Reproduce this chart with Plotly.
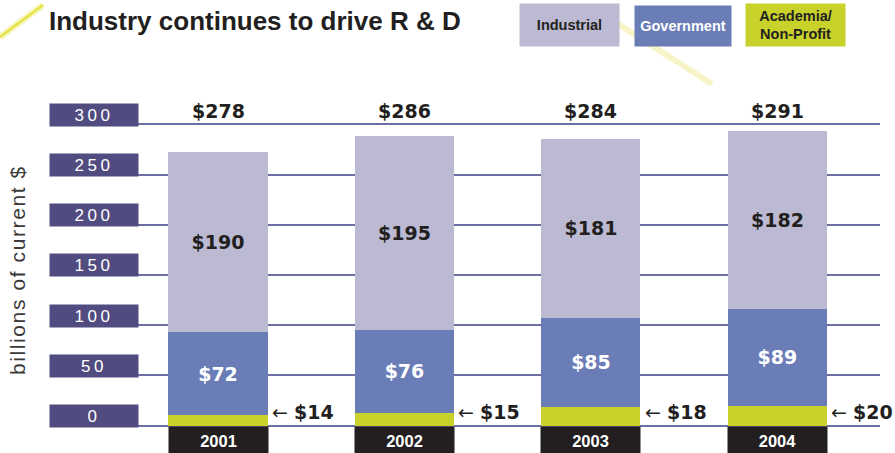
import plotly.graph_objects as go

# ---------------- data ----------------
years = ["2001", "2002", "2003", "2004"]
# segment heights as drawn in the chart (billions of current $)
academia_bar = [10.5, 12.8, 18.5, 19.5]
government_bar = [82.3, 82.7, 89.0, 97.0]
industrial_bar = [179.2, 193.3, 178.0, 177.0]
# printed value labels
academia_label = [14, 15, 18, 20]
government_label = [72, 76, 85, 89]
industrial_label = [190, 195, 181, 182]
total_label = [278, 286, 284, 291]
y_ticks = [0, 50, 100, 150, 200, 250, 300]

# ---------------- styling ----------------
W, H = 895, 453
C_IND = "#bcbad3"
C_GOV = "#6b7db7"
C_ACA = "#c9d12b"
C_NAVY = "#514c80"
C_GRID = "#6e6ea6"
C_DARK = "#231f20"
VAL_FONT = "DejaVu Sans"
LAB_FONT = "Liberation Sans"


def px_x(p):
    return p / W


def px_y(p):
    return 1 - p / H


fig = go.Figure()

fig.add_trace(go.Bar(
    x=years, y=academia_bar, marker=dict(color=C_ACA, line=dict(width=0)),
    hoverinfo="skip", name="Academia/Non-Profit"))
fig.add_trace(go.Bar(
    x=years, y=government_bar, marker=dict(color=C_GOV, line=dict(width=0)),
    customdata=government_label, texttemplate="<b>$%{customdata}</b>",
    textposition="inside", insidetextanchor="middle", textangle=0,
    textfont=dict(family=VAL_FONT, size=19, color="white"),
    hoverinfo="skip", name="Government"))
fig.add_trace(go.Bar(
    x=years, y=industrial_bar, marker=dict(color=C_IND, line=dict(width=0)),
    customdata=industrial_label, texttemplate="<b>$%{customdata}</b>",
    textposition="inside", insidetextanchor="middle", textangle=0,
    textfont=dict(family=VAL_FONT, size=19, color=C_DARK),
    hoverinfo="skip", name="Industrial"))

annotations = []

# totals above the 300 line (category index positions)
for i, t in enumerate(total_label):
    annotations.append(dict(
        x=i, y=300, xref="x", yref="y", yanchor="bottom", yshift=0,
        text=f"<b>${t}</b>", showarrow=False,
        font=dict(family=VAL_FONT, size=19, color=C_DARK)))

# academia labels with arrow, right of bars
for i, a in enumerate(academia_label):
    annotations.append(dict(
        x=i, y=0, xref="x", yref="y", xanchor="left", yanchor="bottom",
        xshift=52, yshift=1,
        text=f"\u2190 <b>${a}</b>", showarrow=False,
        font=dict(family=VAL_FONT, size=19, color=C_DARK)))

# year boxes beneath bars
for i, yr in enumerate(years):
    annotations.append(dict(
        x=i, y=0, xref="x", yref="y", yanchor="top",
        text=f"<b>{yr}</b>", showarrow=False, width=95, height=23,
        borderpad=2, bgcolor=C_DARK,
        font=dict(family=LAB_FONT, size=16.5, color="white")))

# y tick label boxes
for v in y_ticks:
    annotations.append(dict(
        x=px_x(94), y=v, xref="paper", yref="y", xanchor="center",
        yanchor="bottom", yshift=-2.5,
        text=f"<span style='letter-spacing:3.5px'>{v}</span>",
        showarrow=False, width=84, height=18, borderpad=2, bgcolor=C_NAVY,
        font=dict(family=LAB_FONT, size=17, color="white")))

# y-axis title
annotations.append(dict(
    x=px_x(17), y=px_y(270), xref="paper", yref="paper",
    xanchor="center", yanchor="middle",
    text="<span style='letter-spacing:1.6px'>billions of current $</span>",
    textangle=-90, showarrow=False,
    font=dict(family=LAB_FONT, size=21, color="#3a3a3a")))

# title
annotations.append(dict(
    x=px_x(47), y=px_y(21), xref="paper", yref="paper",
    xanchor="left", yanchor="middle",
    text="<b>Industry continues to drive R & D</b>", showarrow=False,
    font=dict(family=LAB_FONT, size=26, color=C_DARK)))

# legend boxes
legend_items = [
    ("<b>Industrial</b>", 569.5, 25, 95, 38, C_IND, C_DARK),
    ("<b>Government</b>", 683, 26, 92, 36, C_GOV, "white"),
    ("<b>Academia/<br>Non-Profit</b>", 795.5, 25, 95, 38, C_ACA, C_DARK),
]
for txt, cx, cy, w, h, bg, fc in legend_items:
    annotations.append(dict(
        x=px_x(cx), y=px_y(cy), xref="paper", yref="paper",
        xanchor="center", yanchor="middle", text=txt, showarrow=False,
        width=w, height=h, borderpad=2, bgcolor=bg,
        font=dict(family=LAB_FONT, size=14.5, color=fc)))

shapes = [
    # decorative yellow streaks
    dict(type="line", xref="paper", yref="paper",
         x0=px_x(0), y0=px_y(37), x1=px_x(43), y1=px_y(5),
         line=dict(color="#f0ee80", width=7), opacity=0.5, layer="below"),
    dict(type="line", xref="paper", yref="paper",
         x0=px_x(0), y0=px_y(37), x1=px_x(43), y1=px_y(5),
         line=dict(color="#e4e23a", width=2.5), opacity=0.9, layer="below"),
    dict(type="line", xref="paper", yref="paper",
         x0=px_x(612), y0=px_y(20), x1=px_x(712), y1=px_y(84),
         line=dict(color="#f2ee9a", width=6), opacity=0.55, layer="below"),
]

fig.update_layout(
    width=W, height=H,
    margin=dict(l=0, r=0, t=0, b=0, pad=0),
    paper_bgcolor="white", plot_bgcolor="white",
    barmode="stack", bargap=0.469, showlegend=False,
    uniformtext=dict(mode=False),
    xaxis=dict(type="category", domain=[138 / W, 880 / W],
               range=[-0.429, 3.55],
               showticklabels=False, showgrid=False, zeroline=False,
               showline=False, ticks="", fixedrange=True),
    yaxis=dict(domain=[1 - 440 / H, 1 - 100 / H], range=[-14.44, 324.2],
               tick0=0, dtick=50, showticklabels=False, showgrid=True,
               gridcolor=C_GRID, gridwidth=2, zeroline=True,
               zerolinecolor=C_GRID, zerolinewidth=2, showline=False,
               ticks="", fixedrange=True),
    annotations=annotations, shapes=shapes,
)

fig.write_html(
    "out.html", config={"displayModeBar": False},
    post_script="document.body.style.margin='0';"
                "document.body.style.padding='0';")
